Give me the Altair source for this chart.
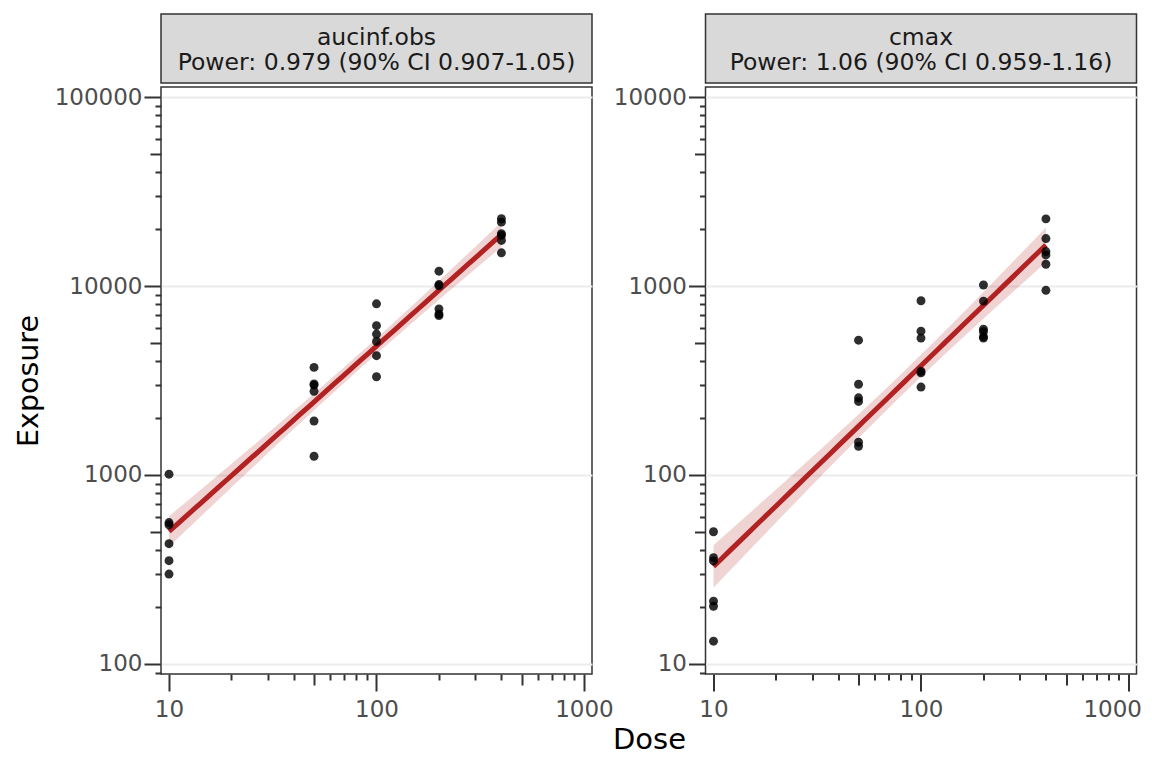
import altair as alt
import pandas as pd
import numpy as np

# ---------------- data ----------------
doses = [10, 50, 100, 200, 400]

auc_10 = [1010, 560, 545, 433, 352, 299]
auc_50 = [3710, 3030, 2990, 2770, 1930, 1257]
auc_100 = [8050, 6170, 5570, 5090, 4280, 3310]
auc_200 = [11980, 10180, 10030, 7570, 7110, 6970]
auc_400 = [22700, 21780, 18900, 18530, 17430, 14990]

cmax_10 = [50.1, 36.5, 35.1, 21.5, 20.2, 13.2]
cmax_50 = [517, 302, 256, 245, 149, 142]
cmax_100 = [836, 577, 530, 354, 347, 292]
cmax_200 = [1012, 832, 591, 573, 540, 530]
cmax_400 = [2266, 1782, 1521, 1460, 1304, 949]

strip_auc = ["aucinf.obs", "Power: 0.979 (90% CI 0.907-1.05)"]
strip_cmax = ["cmax", "Power: 1.06 (90% CI 0.959-1.16)"]

x_ticks = [10, 20, 30, 40, 50, 60, 70, 80, 90,
           100, 200, 300, 400, 500, 600, 700, 800, 900, 1000]
y_ticks_auc = [90,
               100, 200, 300, 400, 500, 600, 700, 800, 900,
               1000, 2000, 3000, 4000, 5000, 6000, 7000, 8000, 9000,
               10000, 20000, 30000, 40000, 50000, 60000, 70000, 80000, 90000,
               100000]
y_ticks_cmax = [9,
                10, 20, 30, 40, 50, 60, 70, 80, 90,
                100, 200, 300, 400, 500, 600, 700, 800, 900,
                1000, 2000, 3000, 4000, 5000, 6000, 7000, 8000, 9000,
                10000]

x_domain = [9.15, 1093]
y_domain_auc = [88.5, 113000]
y_domain_cmax = [8.85, 11300]

T_CRIT = 1.701  # t(0.95, df=28)

RED = "#b22222"
FONT = "DejaVu Sans"
W, H = 431, 587
LABEL_SIZE = 23
STRIP_SIZE = 23.5

DECADE = "abs(log(datum.value)/LN10 - round(log(datum.value)/LN10)) < 0.001"
FIVE = ("abs(datum.value / pow(10, floor(log(datum.value)/LN10 + 0.000001)) - 5) < 0.001")


def points_df(groups):
    rows = []
    for d, vals in zip(doses, groups):
        for v in vals:
            rows.append({"dose": d, "value": v})
    return pd.DataFrame(rows)


def fit_df(df):
    x = np.log10(df["dose"].to_numpy(float))
    y = np.log10(df["value"].to_numpy(float))
    n = len(x)
    b, a = np.polyfit(x, y, 1)
    s = np.sqrt(np.sum((y - (a + b * x)) ** 2) / (n - 2))
    xbar = x.mean()
    sxx = np.sum((x - xbar) ** 2)
    xs = np.linspace(np.log10(min(doses)), np.log10(max(doses)), 41)
    se = s * np.sqrt(1.0 / n + (xs - xbar) ** 2 / sxx)
    yf = a + b * xs
    return pd.DataFrame({
        "dose": 10 ** xs,
        "fit": 10 ** yf,
        "lo": 10 ** (yf - T_CRIT * se),
        "hi": 10 ** (yf + T_CRIT * se),
    })


def x_enc(keep_inside):
    extra = {}
    if keep_inside:
        # keep the last label inside the page (it is cut by the edge in the original)
        extra = dict(
            labelAlign={"condition": {"test": "datum.value >= 999", "value": "right"},
                        "value": "center"},
            labelOffset={"condition": {"test": "datum.value >= 999", "value": 13},
                         "value": 0},
        )
    return alt.X(
        "dose:Q",
        scale=alt.Scale(type="log", domain=x_domain, nice=False, zero=False),
        axis=alt.Axis(
            values=x_ticks, title=None, grid=False, domain=False,
            labelExpr=f"({DECADE}) ? datum.label : ''", format="d",
            labelOverlap=False, labelFontSize=LABEL_SIZE, labelColor="#4d4d4d",
            labelFont=FONT, labelPadding=7,
            tickColor="#333333", tickWidth=2,
            tickSize={"condition": [{"test": DECADE, "value": 17},
                                    {"test": FIVE, "value": 11}],
                      "value": 6},
            **extra,
        ),
    )


def y_axis(ticks, title):
    kw = dict(
        values=ticks, grid=True, domain=False,
        gridColor="#ebebeb", gridWidth=2,
        gridOpacity={"condition": {"test": DECADE, "value": 1}, "value": 0},
        labelExpr=f"({DECADE}) ? datum.label : ''", format="d",
        labelOverlap=False, labelFontSize=LABEL_SIZE, labelColor="#4d4d4d",
        labelFont=FONT, labelPadding=2,
        tickColor="#333333", tickWidth=2,
        tickSize={"condition": [{"test": DECADE, "value": 17},
                                {"test": FIVE, "value": 11}],
                  "value": 6},
    )
    if title:
        kw.update(title=title, titleFontSize=28.5, titleFontWeight="normal",
                  titleColor="black", titleFont=FONT, titlePadding=11)
    else:
        kw.update(title=None)
    return alt.Axis(**kw)


def panel(groups, ticks, ydom, title, keep_inside):
    pdf = points_df(groups)
    fdf = fit_df(pdf)
    ys = alt.Scale(type="log", domain=ydom, nice=False, zero=False)
    ax = y_axis(ticks, title)
    xe = x_enc(keep_inside)
    band = alt.Chart(fdf).mark_area(color=RED, opacity=0.2).encode(
        x=xe, y=alt.Y("lo:Q", scale=ys, axis=ax), y2="hi:Q")
    line = alt.Chart(fdf).mark_line(color=RED, strokeWidth=5).encode(
        x=xe, y=alt.Y("fit:Q", scale=ys, axis=ax))
    pts = alt.Chart(pdf).mark_circle(size=80, color="black", opacity=0.82).encode(
        x=xe, y=alt.Y("value:Q", scale=ys, axis=ax))
    return alt.layer(band, line, pts).properties(
        width=W, height=H,
        view=alt.ViewBackground(fill="white", stroke="#333333", strokeWidth=1.5))


def strip(lines):
    df = pd.DataFrame({"t": ["\n".join(lines)]})
    return alt.Chart(df).mark_text(
        font=FONT, fontSize=STRIP_SIZE, color="#1a1a1a", lineBreak="\n",
        lineHeight=25.5, baseline="middle", align="center"
    ).encode(text="t:N", x=alt.value(W / 2), y=alt.value(23.5)).properties(
        width=W, height=69,
        view=alt.ViewBackground(fill="#d9d9d9", stroke="#333333", strokeWidth=1.5))


strips = alt.hconcat(strip(strip_auc), strip(strip_cmax),
                     spacing=113.5, bounds="flush")
panels = alt.hconcat(
    panel([auc_10, auc_50, auc_100, auc_200, auc_400],
          y_ticks_auc, y_domain_auc, "Exposure", False),
    panel([cmax_10, cmax_50, cmax_100, cmax_200, cmax_400],
          y_ticks_cmax, y_domain_cmax, None, True),
    spacing=113.5, bounds="flush",
).properties(
    title=alt.TitleParams("Dose", orient="bottom", anchor="middle", frame="group",
                          fontSize=29, fontWeight="normal", color="black",
                          font=FONT, offset=4, dx=488.5),
)

chart = alt.vconcat(strips, panels, spacing=1).properties(
    padding={"left": 5, "top": 5, "right": 0, "bottom": 0},
).configure(font=FONT)

chart.save("out.html", embed_options={"renderer": "svg", "actions": False})
